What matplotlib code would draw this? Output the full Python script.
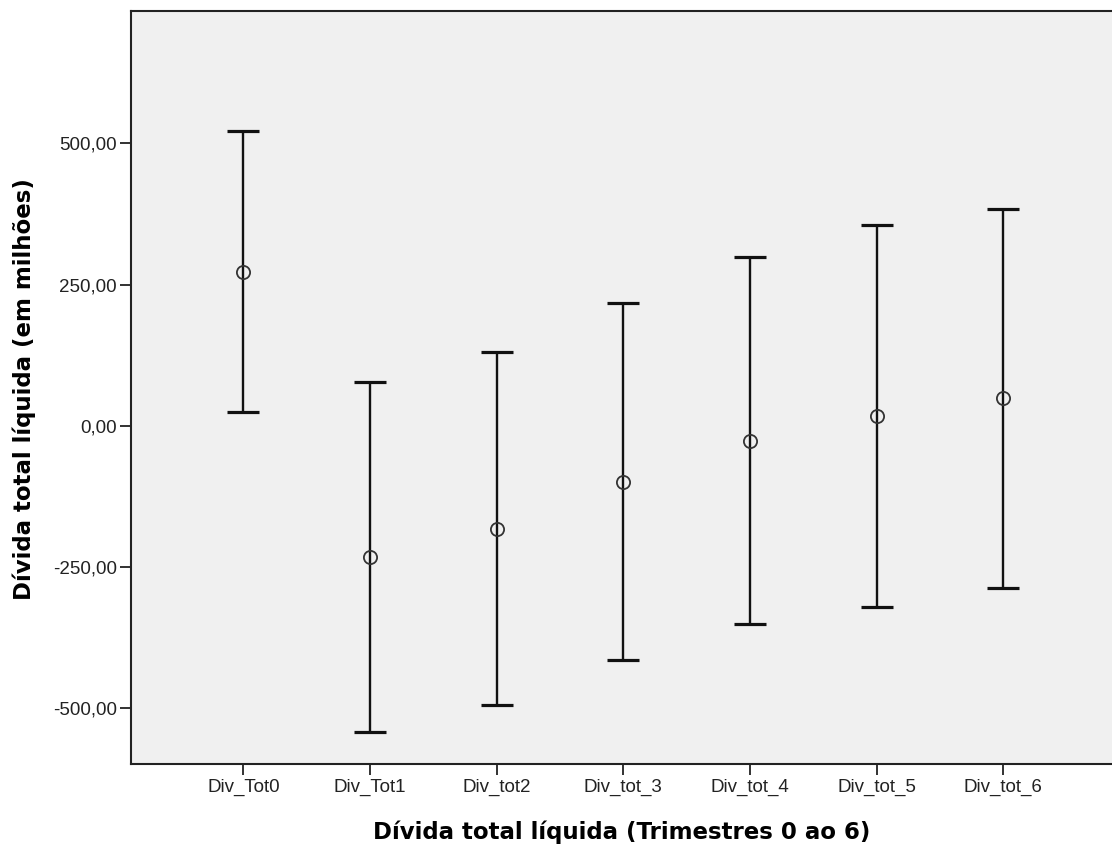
import matplotlib
matplotlib.use("Agg")
import matplotlib.pyplot as plt
from matplotlib.ticker import FuncFormatter

# valores (media e intervalo de confianca)
categorias = ["Div_Tot0", "Div_Tot1", "Div_tot2", "Div_tot_3", "Div_tot_4", "Div_tot_5", "Div_tot_6"]
medias = [272.7, -232.0, -182.9, -99.7, -27.1, 17.2, 48.5]
limite_inf = [23.7, -541.9, -495.1, -415.4, -351.7, -321.6, -287.9]
limite_sup = [522.4, 77.9, 130.5, 216.8, 298.2, 355.4, 383.2]

W, H = 1112, 848
fig = plt.figure(figsize=(W / 100, H / 100), dpi=100)
ax = fig.add_axes([131 / W, 84 / H, 1 - 131 / W, (764 - 11) / H])
ax.set_facecolor("#f0f0f0")

x = list(range(len(categorias)))
err_baixo = [m - l for m, l in zip(medias, limite_inf)]
err_cima = [u - m for m, u in zip(medias, limite_sup)]

ax.errorbar(x, medias, yerr=[err_baixo, err_cima], fmt="none",
            ecolor="#111111", elinewidth=1.7, capsize=11.5, capthick=2.3, zorder=2)
ax.plot(x, medias, linestyle="none", marker="o", markersize=9.5,
        markerfacecolor="none", markeredgecolor="#333333", markeredgewidth=1.3, zorder=3)

ax.set_xlim(-0.887, 6.858)
ax.set_ylim(-599.1, 734.4)
ax.set_xticks(x)
ax.set_xticklabels(categorias)
ax.set_yticks([-500, -250, 0, 250, 500])
ax.yaxis.set_major_formatter(FuncFormatter(lambda v, p: f"{v:.2f}".replace(".", ",")))

for t in ax.get_xticklabels() + ax.get_yticklabels():
    t.set_fontfamily("Liberation Sans")
    t.set_fontsize(13.5)
    t.set_color("#222222")
ax.tick_params(axis="both", direction="out", length=8, width=1.3, color="#222222")
ax.tick_params(axis="y", pad=2)
ax.tick_params(axis="x", pad=3)

for s in ["left", "bottom", "top"]:
    ax.spines[s].set_linewidth(1.5)
    ax.spines[s].set_color("#222222")
ax.spines["right"].set_visible(False)

fig.text(622 / W, 1 - 832 / H, "Dívida total líquida (Trimestres 0 ao 6)",
         ha="center", va="center", fontsize=16.5, fontweight="bold", family="DejaVu Sans")
fig.text(24 / W, 1 - 389 / H, "Dívida total líquida (em milhões)", rotation=90,
         ha="center", va="center", fontsize=16.5, fontweight="bold", family="DejaVu Sans")

fig.savefig("out.png", dpi=100)
